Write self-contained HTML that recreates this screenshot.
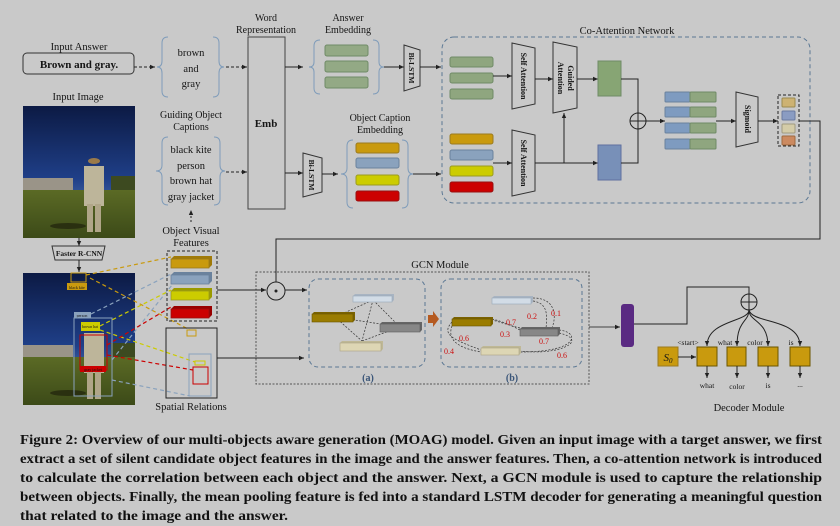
<!DOCTYPE html>
<html><head><meta charset="utf-8"><style>
html,body{margin:0;padding:0;background:#c9c9c9;}
svg{display:block;}
text{font-family:"Liberation Serif",serif;fill:#151515;}
</style></head><body>
<svg width="840" height="526" viewBox="0 0 840 526" xmlns="http://www.w3.org/2000/svg">
<defs>
<marker id="ar" markerWidth="6" markerHeight="6" refX="5" refY="3" orient="auto"><path d="M0,0.8 L5,3 L0,5.2z" fill="#222"/></marker>
<linearGradient id="sky" x1="0" y1="0" x2="0" y2="1"><stop offset="0" stop-color="#0c1a44"/><stop offset="0.55" stop-color="#1f3f88"/><stop offset="0.8" stop-color="#4d6fa8"/></linearGradient>
<linearGradient id="grass" x1="0" y1="0" x2="0" y2="1"><stop offset="0" stop-color="#5b6a25"/><stop offset="1" stop-color="#3c4a18"/></linearGradient>
<g id="photo">
<rect x="0" y="0" width="112" height="132" fill="url(#sky)"/>
<rect x="0" y="72" width="50" height="14" fill="#9a9488"/>
<rect x="88" y="70" width="24" height="18" fill="#3d4a20"/>
<rect x="0" y="84" width="112" height="48" fill="url(#grass)"/>
<rect x="61" y="60" width="20" height="40" fill="#bdb59a"/>
<rect x="64" y="98" width="6" height="28" fill="#b0a688"/><rect x="72" y="98" width="6" height="28" fill="#b0a688"/>
<ellipse cx="71" cy="55" rx="6" ry="3" fill="#9a7a4a"/>
<ellipse cx="45" cy="120" rx="18" ry="3" fill="#2a3010"/>
</g>
</defs>
<!-- Input answer -->
<text x="79" y="50" font-size="10.5" text-anchor="middle">Input Answer</text>
<rect x="23" y="53" width="111" height="21" rx="4" fill="none" stroke="#333" stroke-width="1"/>
<text x="79" y="68" font-size="11" font-weight="bold" text-anchor="middle">Brown and gray.</text>
<line x1="134" y1="67" x2="155" y2="67" stroke="#222" stroke-dasharray="3,2" marker-end="url(#ar)"/>
<path d="M168,37 q-6,0 -6,6 v18 q0,6 -5,6 q5,0 5,6 v18 q0,6 6,6 M213,37 q6,0 6,6 v18 q0,6 5,6 q-5,0 -5,6 v18 q0,6 -6,6" fill="none" stroke="#7f9cba"/>
<text x="191" y="56" font-size="10.5" text-anchor="middle">brown</text>
<text x="191" y="72" font-size="10.5" text-anchor="middle">and</text>
<text x="191" y="87" font-size="10.5" text-anchor="middle">gray</text>
<line x1="226" y1="67" x2="247" y2="67" stroke="#222" stroke-dasharray="3,2" marker-end="url(#ar)"/>
<!-- Emb -->
<text x="266" y="21" font-size="10" text-anchor="middle">Word</text>
<text x="266" y="33" font-size="10" text-anchor="middle">Representation</text>
<rect x="248" y="37" width="37" height="172" fill="none" stroke="#444"/>
<text x="266" y="127" font-size="11" font-weight="bold" text-anchor="middle">Emb</text>
<!-- Answer embedding -->
<text x="348" y="21" font-size="10" text-anchor="middle">Answer</text>
<text x="348" y="33" font-size="10" text-anchor="middle">Embedding</text>
<path d="M320,40 q-6,0 -6,6 v16 q0,5 -5,5 q5,0 5,5 v16 q0,6 6,6 M373,40 q6,0 6,6 v16 q0,5 5,5 q-5,0 -5,5 v16 q0,6 -6,6" fill="none" stroke="#7f9cba"/>
<g fill="#93a985" stroke="#6f8a66"><rect x="325" y="45" width="43" height="11" rx="2"/><rect x="325" y="61" width="43" height="11" rx="2"/><rect x="325" y="77" width="43" height="11" rx="2"/></g>
<line x1="285" y1="67" x2="303" y2="67" stroke="#222" marker-end="url(#ar)"/>
<line x1="384" y1="67" x2="404" y2="67" stroke="#222" marker-end="url(#ar)"/>
<path d="M404,45 L420,50 L420,86 L404,91 Z" fill="none" stroke="#333"/>
<text transform="translate(409,68) rotate(90)" font-size="7.5" font-weight="bold" text-anchor="middle">Bi-LSTM</text>
<line x1="420" y1="67" x2="441" y2="67" stroke="#222" marker-end="url(#ar)"/>
<!-- Input image -->
<text x="78" y="100" font-size="10.5" text-anchor="middle">Input Image</text>
<use href="#photo" x="23" y="106"/>
<line x1="79" y1="238" x2="79" y2="246" stroke="#222" marker-end="url(#ar)"/>
<!-- guiding captions -->
<text x="191" y="118" font-size="10" text-anchor="middle">Guiding Object</text>
<text x="191" y="130" font-size="10" text-anchor="middle">Captions</text>
<path d="M168,137 q-6,0 -6,6 v22 q0,6 -6,6 q6,0 6,6 v22 q0,6 6,6 M214,137 q6,0 6,6 v22 q0,6 5,6 q-5,0 -5,6 v22 q0,6 -6,6" fill="none" stroke="#7f9cba"/>
<text x="191" y="153" font-size="10.5" text-anchor="middle">black kite</text>
<text x="191" y="169" font-size="10.5" text-anchor="middle">person</text>
<text x="191" y="184" font-size="10.5" text-anchor="middle">brown hat</text>
<text x="191" y="200" font-size="10.5" text-anchor="middle">gray jacket</text>
<line x1="226" y1="172" x2="247" y2="172" stroke="#222" stroke-dasharray="3,2" marker-end="url(#ar)"/>
<line x1="191" y1="222" x2="191" y2="210" stroke="#222" stroke-dasharray="2,2" marker-end="url(#ar)"/>
<text x="191" y="234" font-size="10.5" text-anchor="middle">Object Visual</text>
<text x="191" y="246" font-size="10.5" text-anchor="middle">Features</text>
<!-- obj caption embedding -->
<line x1="285" y1="173" x2="303" y2="173" stroke="#222" marker-end="url(#ar)"/>
<path d="M303,153 L322,158 L322,192 L303,197 Z" fill="none" stroke="#333"/>
<text transform="translate(309,175) rotate(90)" font-size="7.5" font-weight="bold" text-anchor="middle">Bi-LSTM</text>
<line x1="322" y1="174" x2="338" y2="174" stroke="#222" marker-end="url(#ar)"/>
<text x="380" y="121" font-size="10" text-anchor="middle">Object Caption</text>
<text x="380" y="133" font-size="10" text-anchor="middle">Embedding</text>
<path d="M353,140 q-6,0 -6,6 v22 q0,6 -6,6 q6,0 6,6 v22 q0,6 6,6 M402,140 q6,0 6,6 v22 q0,6 5,6 q-5,0 -5,6 v22 q0,6 -6,6" fill="none" stroke="#7f9cba"/>
<rect x="356" y="143" width="43" height="10" rx="2" fill="#c99a0e" stroke="#9a7a20"/>
<rect x="356" y="158" width="43" height="10" rx="2" fill="#8aa2bd" stroke="#6a829d"/>
<rect x="356" y="175" width="43" height="10" rx="2" fill="#cccc00" stroke="#9a9a20"/>
<rect x="356" y="191" width="43" height="10" rx="2" fill="#cc0000" stroke="#991111"/>
<line x1="413" y1="174" x2="441" y2="174" stroke="#222" marker-end="url(#ar)"/>
<!-- Co-attention -->
<text x="627" y="34" font-size="10.5" text-anchor="middle">Co-Attention Network</text>
<rect x="442" y="37" width="368" height="166" rx="12" fill="none" stroke="#5c7894" stroke-dasharray="4,3"/>
<g fill="#8fa67f" stroke="#6f8a66"><rect x="450" y="57" width="43" height="10" rx="2"/><rect x="450" y="73" width="43" height="10" rx="2"/><rect x="450" y="89" width="43" height="10" rx="2"/></g>
<path d="M512,43 L535,48 L535,104 L512,109 Z" fill="none" stroke="#333"/>
<text transform="translate(521,76) rotate(90)" font-size="8" font-weight="bold" text-anchor="middle">Self Attention</text>
<line x1="493" y1="76" x2="512" y2="76" stroke="#222" marker-end="url(#ar)"/>
<path d="M553,42 L577,47 L577,108 L553,113 Z" fill="none" stroke="#333"/>
<text transform="translate(568,78) rotate(90)" font-size="8" font-weight="bold" text-anchor="middle">Guided</text>
<text transform="translate(558,78) rotate(90)" font-size="8" font-weight="bold" text-anchor="middle">Attention</text>
<line x1="535" y1="79" x2="553" y2="79" stroke="#222" marker-end="url(#ar)"/>
<line x1="577" y1="79" x2="598" y2="79" stroke="#222" marker-end="url(#ar)"/>
<rect x="598" y="61" width="23" height="35" fill="#87a574" stroke="#6f8a66"/>
<rect x="450" y="134" width="43" height="10" rx="2" fill="#c99a0e" stroke="#9a7a20"/>
<rect x="450" y="150" width="43" height="10" rx="2" fill="#8aa2bd" stroke="#6a829d"/>
<rect x="450" y="166" width="43" height="10" rx="2" fill="#cccc00" stroke="#9a9a20"/>
<rect x="450" y="182" width="43" height="10" rx="2" fill="#cc0000" stroke="#991111"/>
<path d="M512,130 L535,135 L535,191 L512,196 Z" fill="none" stroke="#333"/>
<text transform="translate(521,163) rotate(90)" font-size="8" font-weight="bold" text-anchor="middle">Self Attention</text>
<line x1="493" y1="163" x2="512" y2="163" stroke="#222" marker-end="url(#ar)"/>
<line x1="535" y1="163" x2="598" y2="163" stroke="#222" marker-end="url(#ar)"/>
<line x1="564" y1="163" x2="564" y2="113" stroke="#222" marker-end="url(#ar)"/>
<rect x="598" y="145" width="23" height="35" fill="#7890b8" stroke="#6070a0"/>
<path d="M621,79 H638 V113 M621,163 H638 V129" fill="none" stroke="#222"/>
<circle cx="638" cy="121" r="8" fill="none" stroke="#222"/>
<path d="M630,121 H646 M638,113 V129" stroke="#222"/>
<line x1="646" y1="121" x2="665" y2="121" stroke="#222" marker-end="url(#ar)"/>
<g stroke="#6a829d" fill="#7e9bc0"><rect x="665" y="92" width="25" height="10" rx="1"/><rect x="665" y="107" width="25" height="10" rx="1"/><rect x="665" y="123" width="25" height="10" rx="1"/><rect x="665" y="139" width="25" height="10" rx="1"/></g>
<g stroke="#6f8a66" fill="#8fa67f"><rect x="690" y="92" width="26" height="10" rx="1"/><rect x="690" y="107" width="26" height="10" rx="1"/><rect x="690" y="123" width="26" height="10" rx="1"/><rect x="690" y="139" width="26" height="10" rx="1"/></g>
<line x1="716" y1="121" x2="736" y2="121" stroke="#222" marker-end="url(#ar)"/>
<path d="M736,92 L758,97 L758,142 L736,147 Z" fill="none" stroke="#333"/>
<text transform="translate(745,119) rotate(90)" font-size="8" font-weight="bold" text-anchor="middle">Sigmoid</text>
<line x1="758" y1="121" x2="778" y2="121" stroke="#222" marker-end="url(#ar)"/>
<rect x="778" y="95" width="21" height="51" fill="none" stroke="#222" stroke-dasharray="3,2"/>
<rect x="782" y="98" width="13" height="9" rx="1" fill="#cdb272" stroke="#9a8a50"/>
<rect x="782" y="111" width="13" height="9" rx="1" fill="#8a9cc2" stroke="#6a7aa0"/>
<rect x="782" y="124" width="13" height="9" rx="1" fill="#d4cca8" stroke="#a09a80"/>
<rect x="782" y="136" width="13" height="9" rx="1" fill="#cc8a60" stroke="#a06a40"/>
<path d="M799,121 H820 V239 H276 V282" fill="none" stroke="#222"/>
<!-- Faster RCNN -->
<path d="M52,246 L105,246 L102,260 L55,260 Z" fill="none" stroke="#333"/>
<text x="79" y="256" font-size="7.5" font-weight="bold" text-anchor="middle">Faster R-CNN</text>
<line x1="79" y1="260" x2="79" y2="272" stroke="#222" marker-end="url(#ar)"/>
<use href="#photo" x="23" y="273" transform="translate(0,0)"/>
<rect x="71" y="273" width="15" height="9" fill="none" stroke="#c99a0e"/>
<rect x="67" y="283" width="20" height="7" fill="#c99a0e"/><text x="77" y="289" font-size="4" text-anchor="middle">black kite</text>
<rect x="74" y="312" width="17" height="6" fill="#8aa2bd"/><text x="82" y="317" font-size="4" text-anchor="middle">person</text>
<rect x="74" y="318" width="38" height="78" fill="none" stroke="#8aa2bd"/>
<rect x="81" y="322" width="19" height="9" fill="#cccc00"/><text x="90" y="328" font-size="4" text-anchor="middle">brown hat</text>
<rect x="80" y="335" width="27" height="35" fill="none" stroke="#cc0000"/>
<rect x="80" y="366" width="26" height="6" fill="#cc0000"/><text x="93" y="371" font-size="4" text-anchor="middle">gray jacket</text>
<!-- dashed mapping lines -->
<g fill="none" stroke-dasharray="4,3" stroke-width="1.2">
<path d="M86,275 L171,257 M90,278 L190,330" stroke="#c99a0e"/>
<path d="M91,314 L171,274 M112,360 L172,285 M112,380 L190,396" stroke="#8aa2bd"/>
<path d="M100,326 L171,290 M100,330 L195,362" stroke="#cccc00"/>
<path d="M107,345 L171,307 M107,355 L193,370" stroke="#cc0000"/>
</g>
<!-- object visual features -->
<rect x="167" y="251" width="50" height="70" fill="none" stroke="#222" stroke-dasharray="3,2"/>
<g stroke-width="0.8">
<path d="M171,259 l3,-3 h38 v9 l-3,3z" fill="#a07a08"/><rect x="171" y="259" width="38" height="9" fill="#c99a0e" stroke="#9a7a20"/>
<path d="M171,275 l3,-3 h38 v9 l-3,3z" fill="#6a829d"/><rect x="171" y="275" width="38" height="9" fill="#8aa2bd" stroke="#6a829d"/>
<path d="M171,291 l3,-3 h38 v9 l-3,3z" fill="#9a9a00"/><rect x="171" y="291" width="38" height="9" fill="#cccc00" stroke="#9a9a20"/>
<path d="M171,309 l3,-3 h38 v9 l-3,3z" fill="#990000"/><rect x="171" y="309" width="38" height="9" fill="#cc0000" stroke="#991111"/>
</g>
<!-- spatial relations -->
<rect x="166" y="328" width="51" height="70" fill="none" stroke="#222"/>
<rect x="187" y="330" width="9" height="6" fill="none" stroke="#c99a0e"/>
<rect x="189" y="354" width="22" height="42" fill="none" stroke="#8aa2bd"/>
<rect x="195" y="361" width="10" height="4" fill="none" stroke="#cccc00"/>
<rect x="193" y="367" width="15" height="17" fill="none" stroke="#cc0000"/>
<text x="191" y="410" font-size="10.5" text-anchor="middle">Spatial Relations</text>
<!-- GCN -->
<text x="440" y="268" font-size="10.5" text-anchor="middle">GCN Module</text>
<rect x="256" y="272" width="333" height="112" fill="none" stroke="#555" stroke-dasharray="2,1.5"/>
<line x1="217" y1="290" x2="266" y2="290" stroke="#222" marker-end="url(#ar)"/>
<circle cx="276" cy="291" r="9" fill="none" stroke="#222"/><circle cx="276" cy="291" r="1.5" fill="#222"/>
<line x1="285" y1="290" x2="307" y2="290" stroke="#222" marker-end="url(#ar)"/>
<line x1="217" y1="358" x2="304" y2="358" stroke="#222" marker-end="url(#ar)"/>
<rect x="309" y="279" width="116" height="88" rx="9" fill="none" stroke="#5c7894" stroke-dasharray="4,3"/>
<text x="368" y="381" font-size="10" font-weight="bold" text-anchor="middle" fill="#3a5578" style="fill:#3a5578">(a)</text>
<g stroke="#333" stroke-width="0.7" stroke-dasharray="2,1.5" fill="none">
<path d="M335,317 L373,300 L400,327 M335,317 L400,327 M335,317 L362,341 L373,300 M362,341 L400,327"/>
</g>
<path d="M353,296 l2,-2 h39 v6 l-2,2z" fill="#a8b4c2"/><rect x="353" y="296" width="39" height="6" fill="#d2dce6" stroke="#98a8b8" stroke-width="0.6"/>
<path d="M312,314 l2,-2 h41 v8 l-2,2z" fill="#7a6200"/><rect x="312" y="314" width="41" height="8" fill="#9a7c00" stroke="#6a5500" stroke-width="0.6"/>
<path d="M380,324 l2,-2 h40 v8 l-2,2z" fill="#666"/><rect x="380" y="324" width="40" height="8" fill="#878787" stroke="#5a5a5a" stroke-width="0.6"/>
<path d="M340,343 l2,-2 h41 v8 l-2,2z" fill="#bfb896"/><rect x="340" y="343" width="41" height="8" fill="#ddd6b4" stroke="#aaa285" stroke-width="0.6"/>
<path d="M428,315 h5 v-4 l6,8 l-6,8 v-4 h-5z" fill="#b55a20"/>
<rect x="441" y="279" width="141" height="88" rx="9" fill="none" stroke="#5c7894" stroke-dasharray="4,3"/>
<text x="512" y="381" font-size="10" font-weight="bold" text-anchor="middle" style="fill:#3a5578">(b)</text>
<g stroke="#333" stroke-width="0.7" stroke-dasharray="2,1.5" fill="none">
<path d="M533,301 C546,303 548,312 546,328"/>
<path d="M533,298 C555,298 557,315 552,328"/>
<path d="M492,319 C505,322 512,326 520,330"/>
<path d="M520,328 C508,325 500,322 492,320"/>
<path d="M452,322 C440,335 455,340 481,350"/>
<path d="M452,326 C445,345 470,350 481,352"/>
<path d="M559,330 C580,332 580,352 520,352"/>
<path d="M559,333 C590,340 560,356 520,351"/>
</g>
<path d="M492,298 l2,-2 h39 v6 l-2,2z" fill="#a8b4c2"/><rect x="492" y="298" width="39" height="6" fill="#d2dce6" stroke="#98a8b8" stroke-width="0.6"/>
<path d="M452,319 l2,-2 h39 v7 l-2,2z" fill="#7a6200"/><rect x="452" y="319" width="39" height="7" fill="#9a7c00" stroke="#6a5500" stroke-width="0.6"/>
<path d="M520,329 l2,-2 h38 v7 l-2,2z" fill="#666"/><rect x="520" y="329" width="38" height="7" fill="#878787" stroke="#5a5a5a" stroke-width="0.6"/>
<path d="M481,348 l2,-2 h38 v7 l-2,2z" fill="#bfb896"/><rect x="481" y="348" width="38" height="7" fill="#ddd6b4" stroke="#aaa285" stroke-width="0.6"/>
<g font-size="8" style="fill:#cc1111">
<text x="506" y="325" style="fill:#cc1111">0.7</text><text x="527" y="319" style="fill:#cc1111">0.2</text><text x="551" y="316" style="fill:#cc1111">0.1</text>
<text x="500" y="337" style="fill:#cc1111">0.3</text><text x="459" y="341" style="fill:#cc1111">0.6</text><text x="539" y="344" style="fill:#cc1111">0.7</text>
<text x="444" y="354" style="fill:#cc1111">0.4</text><text x="557" y="358" style="fill:#cc1111">0.6</text>
</g>
<line x1="589" y1="327" x2="620" y2="327" stroke="#444" marker-end="url(#ar)"/>
<rect x="621" y="304" width="13" height="43" rx="3" fill="#5a2a82"/>
<!-- Decoder -->
<path d="M634,324 H687 V287 H749 V294" fill="none" stroke="#222"/>
<circle cx="749" cy="302" r="8" fill="none" stroke="#222"/>
<path d="M741,302 H757 M749,294 V310" stroke="#222"/>
<g fill="none" stroke="#222">
<path d="M749,310 C749,322 707,320 707,346" marker-end="url(#ar)"/>
<path d="M749,310 C749,322 737,320 737,346" marker-end="url(#ar)"/>
<path d="M749,310 C749,322 768,320 768,346" marker-end="url(#ar)"/>
<path d="M749,310 C752,324 800,318 800,346" marker-end="url(#ar)"/>
</g>
<rect x="658" y="347" width="20" height="19" fill="#c99a0e" stroke="#9a7a20"/>
<text x="668" y="361" font-size="11" font-style="italic" text-anchor="middle">S<tspan font-size="7" dy="2">0</tspan></text>
<line x1="678" y1="357" x2="696" y2="357" stroke="#222" marker-end="url(#ar)"/>
<g fill="#c99a0e" stroke="#6a5500"><rect x="697" y="347" width="20" height="19"/><rect x="727" y="347" width="19" height="19"/><rect x="758" y="347" width="20" height="19"/><rect x="790" y="347" width="20" height="19"/></g>
<g font-size="7.5" text-anchor="middle"><text x="688" y="345">&lt;start&gt;</text><text x="725" y="345">what</text><text x="755" y="345">color</text><text x="791" y="345">is</text>
<text x="707" y="388">what</text><text x="737" y="389">color</text><text x="768" y="388">is</text><text x="800" y="387">...</text></g>
<g stroke="#222"><line x1="707" y1="366" x2="707" y2="378" marker-end="url(#ar)"/><line x1="737" y1="366" x2="737" y2="378" marker-end="url(#ar)"/><line x1="768" y1="366" x2="768" y2="378" marker-end="url(#ar)"/><line x1="800" y1="366" x2="800" y2="378" marker-end="url(#ar)"/></g>
<text x="749" y="411" font-size="10.5" text-anchor="middle">Decoder Module</text>
<!-- caption -->
<g font-size="14" style="fill:#111" font-weight="bold">
<text x="20" y="444" textLength="802" lengthAdjust="spacingAndGlyphs" style="fill:#111">Figure 2: Overview of our multi-objects aware generation (MOAG) model. Given an input image with a target answer, we first</text>
<text x="20" y="463" textLength="802" lengthAdjust="spacingAndGlyphs" style="fill:#111">extract a set of silent candidate object features in the image and the answer features. Then, a co-attention network is introduced</text>
<text x="20" y="482" textLength="802" lengthAdjust="spacingAndGlyphs" style="fill:#111">to calculate the correlation between each object and the answer. Next, a GCN module is used to capture the relationship</text>
<text x="20" y="501" textLength="802" lengthAdjust="spacingAndGlyphs" style="fill:#111">between objects. Finally, the mean pooling feature is fed into a standard LSTM decoder for generating a meaningful question</text>
<text x="20" y="520" textLength="268" lengthAdjust="spacingAndGlyphs" style="fill:#111">that related to the image and the answer.</text>
</g>
</svg>
</body></html>
